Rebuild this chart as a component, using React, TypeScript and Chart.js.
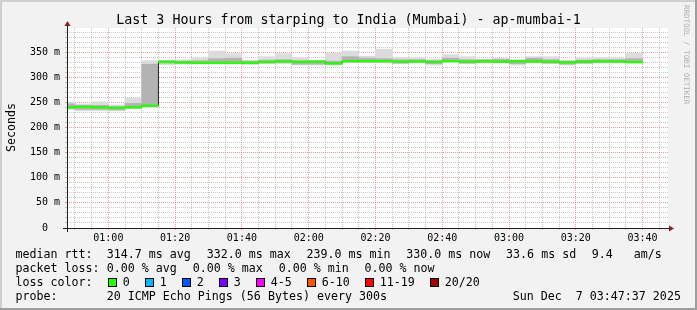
import React, { useEffect, useRef } from 'react';
import { Chart, registerables } from 'chart.js';

Chart.register(...registerables);

// ---------- texts ----------
const TITLE = 'Last 3 Hours from starping to India (Mumbai) - ap-mumbai-1';
const Y_TITLE = 'Seconds';
const WATERMARK = 'RRDTOOL / TOBI OETIKER';

// ---------- time frame ----------
const FIRST_BIN = '00:45';
const STEP_MIN = 5;
const VIEW_START = '00:47:37';
const VIEW_END = '03:47:37';
const Y_MAX = 398;

// ---------- tick labels ----------
const xTickLabels = ['01:00', '01:20', '01:40', '02:00', '02:20', '02:40', '03:00', '03:20', '03:40'];
const yTickValues = [0, 50, 100, 150, 200, 250, 300, 350];
const yTickLabels = ['0  ', '50 m', '100 m', '150 m', '200 m', '250 m', '300 m', '350 m'];

// ---------- data (ms), one value per 5-minute bin starting 00:45 ----------
const medianRtt = [
  240, 241, 240, 239, 240.5, 243.5,
  330.5, 329.5, 329, 329, 329, 329, 330.5, 331.5, 330.5, 331, 327.5,
  332, 332, 332, 331, 331.5, 330.5, 332, 331, 331.5, 331, 331.5, 331.5,
  331, 329.5, 331, 331.5, 331.5, 330,
];
const smokeLow = [
  236, 233, 233, 233, 237, 240,
  325, 326, 326, 326, 326, 325, 327, 327, 324, 324, 324,
  329, 329, 329, 327, 328, 324, 329, 327, 328, 328, 324, 328,
  327, 324, 327, 328, 328, 328,
];
const smokeHigh = [
  251, 247, 251, 245, 258, 333,
  334, 335, 338, 352, 347, 334, 341, 347, 339, 334, 348,
  352, 342, 356, 339, 338, 336, 345, 341, 336, 337, 335, 341,
  341, 334, 338, 339, 338, 348,
];
const coreLow = [
  238, 236, 236, 235, 238, 242,
  328, 327, 327, 328, 328, 327, 328, 329, 326, 326, 326,
  330, 330, 330, 328, 329, 327, 331, 328, 329, 329, 327, 329,
  328, 326, 328, 329, 329, 329,
];
const coreHigh = [
  247, 244, 244, 242, 248, 326,
  333, 332, 333, 337, 338, 332, 334, 335, 333, 333, 332,
  341, 338, 337, 335, 335, 333, 338, 335, 335, 336, 334, 338,
  335, 332, 334, 335, 335, 337,
];

// ---------- legend ----------
const rttStats = ['314.7 ms avg', '332.0 ms max', '239.0 ms min', '330.0 ms now', '33.6 ms sd', '9.4   am/s'];
const lossStats = ['0.00 % avg', '0.00 % max', '0.00 % min', '0.00 % now'];
const lossLabels = ['0', '1', '2', '3', '4-5', '6-10', '11-19', '20/20'];
const lossColors = ['#26ff00', '#00b8ff', '#0059ff', '#7e00ff', '#ff00ff', '#ff5500', '#ff0000', '#a00000'];
const probeText = '20 ICMP Echo Pings (56 Bytes) every 300s';
const stampText = 'Sun Dec  7 03:47:37 2025';

// ---------- helpers ----------
const toMin = (s: string) => {
  const p = s.split(':').map(Number);
  return p[0] * 60 + p[1] + (p[2] || 0) / 60;
};
const binCenters = medianRtt.map((_, i) => toMin(FIRST_BIN) + STEP_MIN * (i + 0.5));
const bandData = (lo: number[], hi: number[]) => binCenters.map((x, i) => ({ x, y: [lo[i], hi[i]] }));
const MEDIAN_HALF = 1.6; // half height of median band (ms)

const MONO = '"DejaVu Sans Mono", monospace';
const GRID_MINOR = 'rgba(143,143,143,0.5)';
const GRID_MAJOR = 'rgba(222,79,79,0.55)';

const isMajorX = (v: number) => xTickLabels.some((l) => Math.abs(toMin(l) - v) < 1e-6);

const decorPlugin = {
  id: 'rrdDecor',
  beforeDraw(chart: any) {
    const { ctx, chartArea: a, width, height } = chart;
    ctx.save();
    ctx.fillStyle = '#f2f2f2';
    ctx.fillRect(0, 0, width, height);
    ctx.fillStyle = '#ffffff';
    ctx.fillRect(a.left, a.top, a.right - a.left, a.bottom - a.top);
    ctx.restore();
  },
  afterDraw(chart: any) {
    const { ctx, chartArea: a, width, height } = chart;
    const xs = chart.scales.x;
    const ys = chart.scales.y;
    ctx.save();

    // axes
    const y0 = Math.round(ys.getPixelForValue(0)) + 0.5;
    const x0 = Math.round(xs.left) + 0.5;
    ctx.strokeStyle = '#1f1f1f';
    ctx.lineWidth = 1;
    ctx.beginPath();
    ctx.moveTo(a.left - 4, y0);
    ctx.lineTo(a.right + 2, y0);
    ctx.moveTo(x0, a.bottom + 4);
    ctx.lineTo(x0, a.top - 4);
    ctx.stroke();
    ctx.fillStyle = '#801f1f';
    ctx.beginPath();
    ctx.moveTo(a.right + 6, y0);
    ctx.lineTo(a.right + 1, y0 - 3);
    ctx.lineTo(a.right + 1, y0 + 3);
    ctx.closePath();
    ctx.fill();
    ctx.beginPath();
    ctx.moveTo(x0, a.top - 7);
    ctx.lineTo(x0 - 3, a.top - 2);
    ctx.lineTo(x0 + 3, a.top - 2);
    ctx.closePath();
    ctx.fill();

    // title
    ctx.fillStyle = '#000';
    ctx.textBaseline = 'alphabetic';
    ctx.font = '13.3px ' + MONO;
    ctx.textAlign = 'center';
    ctx.fillText(TITLE, width / 2, 24);

    // y axis title
    ctx.save();
    ctx.translate(14.5, 127.5);
    ctx.rotate(-Math.PI / 2);
    ctx.font = '11.65px ' + MONO;
    ctx.fillText(Y_TITLE, 0, 0);
    ctx.restore();

    // watermark
    ctx.save();
    ctx.translate(684, 5);
    ctx.rotate(Math.PI / 2);
    ctx.textAlign = 'left';
    ctx.font = '7.5px ' + MONO;
    ctx.fillStyle = 'rgba(0,0,0,0.3)';
    ctx.fillText(WATERMARK, 0, 0);
    ctx.restore();

    // legend
    ctx.textAlign = 'left';
    ctx.font = '11.65px ' + MONO;
    ctx.fillStyle = '#000';
    const rows = [258.3, 272.3, 286.3, 300.3];
    const lx = 15.4;
    ctx.fillText('median rtt:', lx, rows[0]);
    const rttX = [106.7, 206.7, 306.5, 406.2, 506.1, 591.7];
    rttStats.forEach((t, i) => ctx.fillText(t, rttX[i], rows[0]));
    ctx.fillText('packet loss:', lx, rows[1]);
    const lossX = [106.7, 192.7, 278.7, 364.4];
    lossStats.forEach((t, i) => ctx.fillText(t, lossX[i], rows[1]));
    ctx.fillText('loss color:', lx, rows[2]);
    const boxX = [108.5, 145.5, 182.5, 219.5, 256.5, 307.5, 365.5, 430.5];
    lossLabels.forEach((t, i) => {
      ctx.fillStyle = lossColors[i];
      ctx.fillRect(boxX[i], 278.5, 8, 8);
      ctx.strokeStyle = '#000';
      ctx.strokeRect(boxX[i], 278.5, 8, 8);
      ctx.fillStyle = '#000';
      ctx.fillText(t, boxX[i] + 14.3, rows[2]);
    });
    ctx.fillText('probe:', lx, rows[3]);
    ctx.fillText(probeText, 106.7, rows[3]);
    ctx.fillText(stampText, 512.7, rows[3]);

    // frame shading
    ctx.fillStyle = '#cfcfcf';
    ctx.fillRect(0, 0, width, 2);
    ctx.fillRect(0, 0, 2, height);
    ctx.fillStyle = '#9e9e9e';
    ctx.fillRect(0, height - 2, width, 2);
    ctx.fillRect(width - 2, 0, 2, height);
    ctx.restore();
  },
};

export default function App() {
  const ref = useRef<HTMLCanvasElement | null>(null);

  useEffect(() => {
    if (!ref.current) return;
    const barCommon = {
      type: 'bar' as const,
      grouped: false,
      barPercentage: 1,
      categoryPercentage: 1,
      borderWidth: 0,
      borderSkipped: false,
    };
    const chart = new Chart(ref.current, {
      type: 'bar',
      data: {
        datasets: [
          {
            ...barCommon,
            label: 'smoke',
            data: bandData(smokeLow, smokeHigh),
            backgroundColor: '#dcdcdc',
            order: 4,
          } as any,
          {
            ...barCommon,
            label: 'smoke core',
            data: bandData(coreLow, coreHigh),
            backgroundColor: '#b3b3b3',
            order: 3,
          } as any,
          {
            type: 'line',
            label: 'median',
            data: binCenters.map((x, i) => ({ x, y: medianRtt[i] })),
            stepped: 'middle',
            borderColor: '#202020',
            borderWidth: 1,
            pointRadius: 0,
            order: 2,
          } as any,
          {
            ...barCommon,
            label: 'median rtt',
            data: binCenters.map((x, i) => ({ x, y: [medianRtt[i] - MEDIAN_HALF, medianRtt[i] + MEDIAN_HALF] })),
            backgroundColor: lossColors[0],
            order: 1,
          } as any,
        ],
      },
      options: {
        animation: false,
        responsive: false,
        devicePixelRatio: 1,
        layout: { padding: { left: 8, right: 29, top: 28, bottom: 62 } },
        plugins: {
          legend: { display: false },
          tooltip: { enabled: false },
          title: { display: false },
        },
        scales: {
          x: {
            type: 'linear',
            offset: false,
            min: toMin(VIEW_START),
            max: toMin(VIEW_END),
            z: 1,
            afterFit: (s: any) => {
              s.height = 20;
            },
            afterBuildTicks: (s: any) => {
              const ticks: { value: number }[] = [];
              for (let v = Math.ceil(s.min / STEP_MIN) * STEP_MIN; v <= s.max; v += STEP_MIN) ticks.push({ value: v });
              s.ticks = ticks;
            },
            border: { display: false, dash: [1, 1] },
            grid: {
              offset: false,
              color: (c: any) => (c.tick && isMajorX(c.tick.value) ? GRID_MAJOR : GRID_MINOR),
              tickColor: (c: any) => (c.tick && isMajorX(c.tick.value) ? GRID_MAJOR : GRID_MINOR),
              lineWidth: 1,
              drawTicks: true,
              tickLength: 2,
            },
            ticks: {
              autoSkip: false,
              maxRotation: 0,
              minRotation: 0,
              padding: 2,
              color: '#000',
              font: { family: 'DejaVu Sans Mono', size: 10 },
              callback: (v: any) => {
                const i = xTickLabels.findIndex((l) => Math.abs(toMin(l) - Number(v)) < 1e-6);
                return i >= 0 ? xTickLabels[i] : '';
              },
            },
          },
          y: {
            type: 'linear',
            min: 0,
            max: Y_MAX,
            z: 1,
            afterFit: (s: any) => {
              s.width = 59;
            },
            afterBuildTicks: (s: any) => {
              const ticks: { value: number }[] = [];
              for (let v = 0; v <= s.max; v += 10) ticks.push({ value: v });
              s.ticks = ticks;
            },
            border: { display: false, dash: [1, 1] },
            grid: {
              color: (c: any) => (c.tick && c.tick.value % 50 === 0 ? GRID_MAJOR : GRID_MINOR),
              tickColor: (c: any) => (c.tick && c.tick.value % 50 === 0 ? GRID_MAJOR : GRID_MINOR),
              lineWidth: 1,
              drawTicks: true,
              tickLength: 2,
            },
            ticks: {
              autoSkip: false,
              padding: 5,
              color: '#000',
              font: { family: 'DejaVu Sans Mono', size: 10 },
              callback: (v: any) => {
                const i = yTickValues.indexOf(Number(v));
                return i >= 0 ? yTickLabels[i] : '';
              },
            },
          },
        },
      } as any,
      plugins: [decorPlugin],
    });
    return () => chart.destroy();
  }, []);

  return (
    <div style={{ position: 'absolute', left: 0, top: 0, width: 697, height: 310 }}>
      <canvas ref={ref} width={697} height={310} style={{ display: 'block' }} />
    </div>
  );
}
